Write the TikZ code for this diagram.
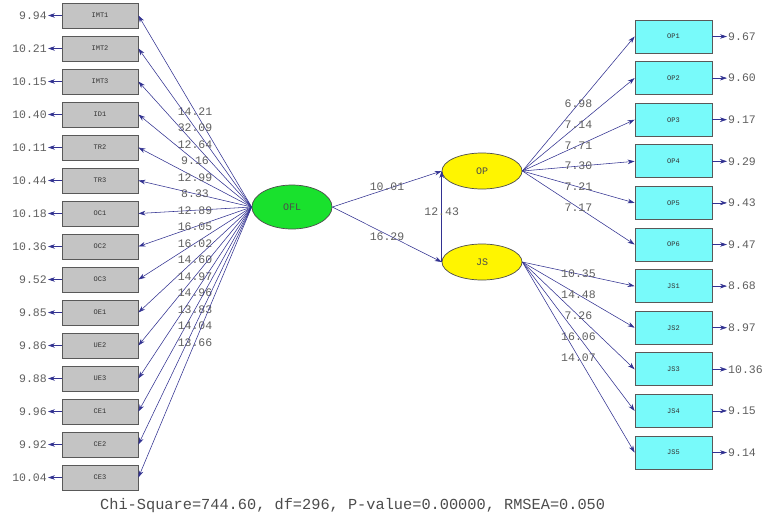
\documentclass[tikz,border=0pt]{standalone}
\usepackage{fontspec}
\setmonofont{Liberation Mono}
\usetikzlibrary{arrows.meta,shapes.geometric}
\definecolor{ln}{RGB}{50,50,145}
\definecolor{numc}{RGB}{95,95,95}
\definecolor{gboxc}{RGB}{196,196,196}
\definecolor{cboxc}{RGB}{120,250,250}
\definecolor{greenc}{RGB}{25,225,45}
\definecolor{yellowc}{RGB}{255,245,0}
\tikzset{
  arr/.style={draw=ln, line width=0.55pt, -{Stealth[length=7pt,width=4.6pt]}},
  num/.style={font=\ttfamily\fontsize{11.5}{12}\selectfont, text=numc, inner sep=1pt},
  gbox/.style={draw=black!65, line width=0.8pt, fill=gboxc, minimum width=76pt, minimum height=25pt, inner sep=0pt, font=\ttfamily\fontsize{7}{8}\selectfont, text=black!80},
  cbox/.style={draw=black!65, line width=0.8pt, fill=cboxc, minimum width=77pt, minimum height=33pt, inner sep=0pt, font=\ttfamily\fontsize{7}{8}\selectfont, text=black!80},
  latent/.style={ellipse, draw=black!70, line width=0.7pt, minimum width=80pt, minimum height=40pt, inner sep=0pt, font=\ttfamily\fontsize{10}{11}\selectfont, text=black!70},
  foot/.style={font=\ttfamily\fontsize{15.3}{16}\selectfont, text=black!70, inner sep=0pt}
}
\begin{document}
\begin{tikzpicture}[x=1pt,y=-1pt]
\useasboundingbox (0,0) rectangle (768,520);
\fill[white] (0,0) rectangle (768,520);

\node[latent, fill=greenc, minimum width=80pt, minimum height=44pt] (OFL) at (292,207) {OFL};
\node[latent, fill=yellowc, minimum width=80pt, minimum height=36pt] (OP) at (482,171) {OP};
\node[latent, fill=yellowc, minimum width=80pt, minimum height=36pt] (JS) at (482,262) {JS};

% left indicators
\foreach \lab/\err/\coef [count=\i from 0] in {
  IMT1/9.94/14.21, IMT2/10.21/32.09, IMT3/10.15/12.64, ID1/10.40/9.16,
  TR2/10.11/12.99, TR3/10.44/8.33, OC1/10.18/12.89, OC2/10.36/16.05,
  OC3/9.52/16.02, OE1/9.85/14.60, UE2/9.86/14.97, UE3/9.88/14.96,
  CE1/9.96/13.83, CE2/9.92/14.04, CE3/10.04/13.66} {
  \node[gbox] (L\i) at (100,15.5+33*\i) {\lab};
  \coordinate (Le\i) at (48,15.5+33*\i);
  \draw[arr] (L\i.west) -- (Le\i);
  \node[num, anchor=east] (Len\i) at (Le\i) {\err};
  \draw[arr] (OFL.west) -- node[num, pos=0.5] (Lc\i) {\coef} (L\i.east);
}

% right indicators
\foreach \lab/\err/\lat/\coef [count=\i from 0] in {
  OP1/9.67/OP/6.98, OP2/9.60/OP/7.14, OP3/9.17/OP/7.71, OP4/9.29/OP/7.30,
  OP5/9.43/OP/7.21, OP6/9.47/OP/7.17, JS1/8.68/JS/10.35, JS2/8.97/JS/14.48,
  JS3/10.36/JS/7.26, JS4/9.15/JS/16.06, JS5/9.14/JS/14.07} {
  \node[cbox] (R\i) at (673.5,36.5+41.6*\i) {\lab};
  \coordinate (Re\i) at (727,36.5+41.6*\i);
  \draw[arr] (R\i.east) -- (Re\i);
  \node[num, anchor=west] (Ren\i) at (Re\i) {\err};
  \draw[arr] (\lat.east) -- node[num, pos=0.5] (Rc\i) {\coef} (R\i.west);
}

% structural paths
\draw[arr] (OFL.east) -- node[num, pos=0.5, above, yshift=-3pt] (c1) {10.01} (OP.west);
\draw[arr] (OFL.east) -- node[num, pos=0.5, below, yshift=3pt] (c2) {16.29} (JS.west);
\draw[arr] (JS.west) -- node[num, pos=0.55] (c3) {12.43} (OP.west);

\node[foot, anchor=west] (fit) at (100,506) {Chi-Square=744.60, df=296, P-value=0.00000, RMSEA=0.050};
\end{tikzpicture}
\end{document}
